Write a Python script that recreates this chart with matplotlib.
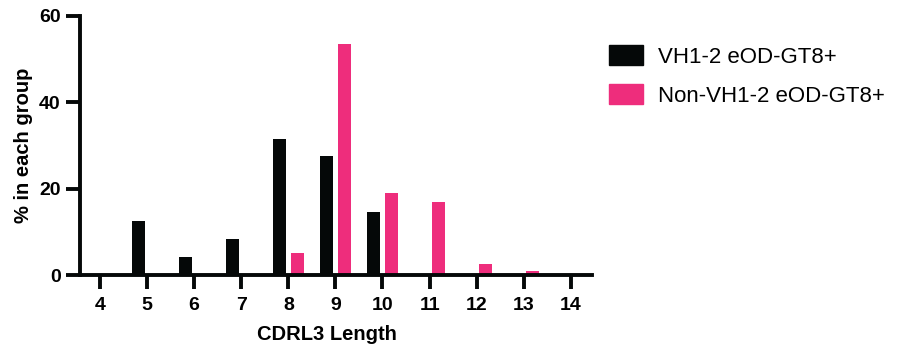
import matplotlib
matplotlib.use("Agg")
import matplotlib.pyplot as plt
from matplotlib.patches import Patch

lengths = [4, 5, 6, 7, 8, 9, 10, 11, 12, 13, 14]
vh12 = [0, 12.6, 4.2, 8.3, 31.6, 27.5, 14.7, 0, 0, 0, 0]
non_vh12 = [0, 0, 0, 0, 5.2, 53.5, 19.1, 17.0, 2.5, 1.0, 0]
series_names = ["VH1-2 eOD-GT8+", "Non-VH1-2 eOD-GT8+"]
yticks = [0, 20, 40, 60]

black = "#050808"
pink = "#EE2D7C"

plt.rcParams['font.family'] = ['Liberation Sans', 'DejaVu Sans']

fig = plt.figure(figsize=(8.98, 3.49), dpi=100)
ax = fig.add_axes([80/898, 1-275/349, (592-80)/898, (275-16)/349])

w = 0.28
off = 0.19
ax.bar([x - off for x in lengths], vh12, width=w, color=black, label=series_names[0])
ax.bar([x + off for x in lengths], non_vh12, width=w, color=pink, label=series_names[1])

ax.set_xlim(3.575, 14.45)
ax.set_ylim(0, 60)
ax.set_xticks(lengths)
ax.set_yticks(yticks)
for s in ['top', 'right']:
    ax.spines[s].set_visible(False)
for s in ['left', 'bottom']:
    ax.spines[s].set_linewidth(2.8)
    ax.spines[s].set_color(black)
    ax.spines[s].set_capstyle('projecting')
ax.tick_params(axis='both', width=2.8, length=10, color=black, labelsize=14, pad=4)
ax.tick_params(axis='x', pad=6)
for lab in ax.get_xticklabels() + ax.get_yticklabels():
    lab.set_fontweight('bold')
ax.set_xlabel("CDRL3 Length", fontsize=14.5, fontweight='bold')
ax.set_ylabel("% in each group", fontsize=14.5, fontweight='bold')
ax.xaxis.set_label_coords((327-80)/512, -(325-275)/259)
ax.yaxis.set_label_coords(-(80-33)/512, 0.5)

handles = [Patch(color=black), Patch(color=pink)]
fig.legend(handles, series_names, loc='upper left', bbox_to_anchor=(589/898, 1-25/349),
           frameon=False, fontsize=16, handlelength=1.53, handleheight=1.0,
           handletextpad=0.68, labelspacing=0.75, borderpad=0.4)

fig.savefig("out.png", dpi=100)
